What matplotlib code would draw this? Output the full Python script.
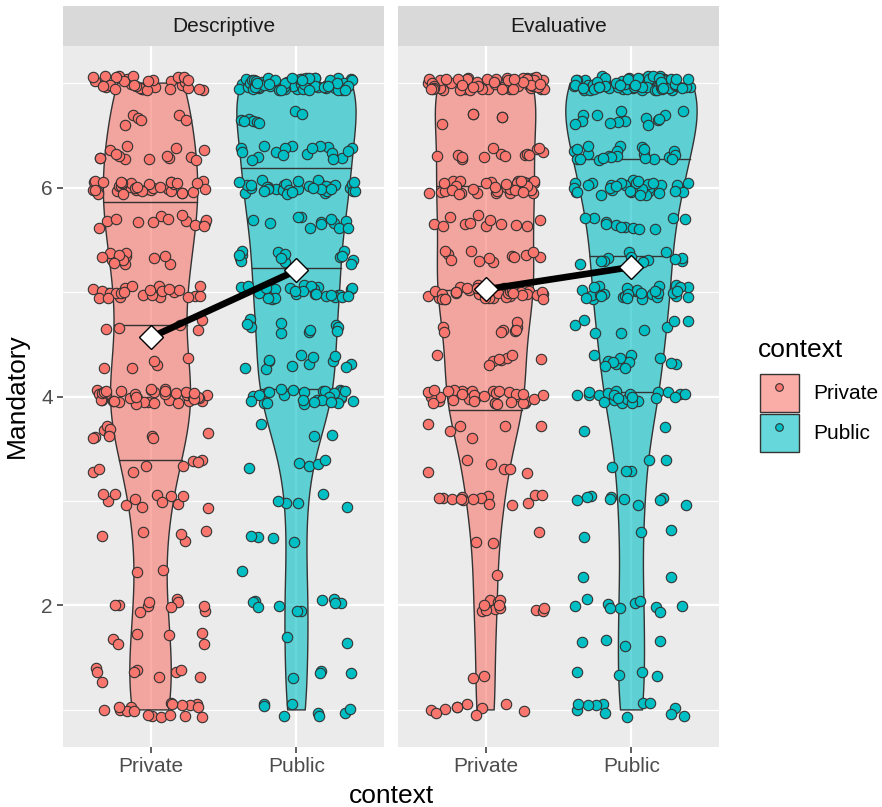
import numpy as np
import matplotlib
matplotlib.use("Agg")
import matplotlib.pyplot as plt
from matplotlib.colors import to_rgba
from matplotlib.patches import Patch
from matplotlib.lines import Line2D
from matplotlib.legend_handler import HandlerTuple

plt.rcParams["font.family"] = ["Liberation Sans", "DejaVu Sans"]

# response levels (scale means) and how many answers sit at each
levels = [1.0, 1.33, 1.67, 2.0, 2.33, 2.67, 3.0, 3.33, 3.67, 4.0,
          4.33, 4.67, 5.0, 5.33, 5.67, 6.0, 6.33, 6.67, 7.0]
desc_private = [18, 9, 6, 10, 2, 5, 12, 8, 10, 40, 5, 5, 25, 12, 13, 36, 14, 6, 36]
desc_public = [8, 4, 2, 10, 1, 4, 5, 5, 3, 30, 12, 10, 28, 14, 12, 36, 18, 8, 65]
eval_private = [10, 2, 0, 12, 1, 3, 14, 6, 6, 35, 8, 8, 40, 12, 12, 36, 14, 5, 57]
eval_public = [12, 4, 4, 10, 2, 3, 10, 5, 2, 22, 12, 8, 30, 12, 12, 34, 22, 14, 77]

facets = ["Descriptive", "Evaluative"]
contexts = ["Private", "Public"]
counts = {
    ("Descriptive", "Private"): desc_private,
    ("Descriptive", "Public"): desc_public,
    ("Evaluative", "Private"): eval_private,
    ("Evaluative", "Public"): eval_public,
}
colors = {"Private": "#F8766D", "Public": "#00BFC4"}
EDGE = "#333333"


def ydensity(vals):
    # same recipe as ggplot stat_ydensity: nrd0 bandwidth, trimmed to data range
    n = vals.size
    q75, q25 = np.percentile(vals, [75, 25])
    bw = 0.9 * min(vals.std(ddof=1), (q75 - q25) / 1.34) * n ** -0.2
    grid = np.linspace(vals.min(), vals.max(), 512)
    z = (grid[:, None] - vals[None, :]) / bw
    dens = np.exp(-0.5 * z ** 2).sum(axis=1) / (n * bw * np.sqrt(2 * np.pi))
    return grid, dens


def jitter(n, start):
    # deterministic scatter offsets (quadratic Weyl sequence), width 0.4, height 0.07
    k = np.arange(n, dtype=float) + start
    ux = (k * 0.7548776662466927 + k * k * 0.1234567891) % 1
    uy = (k * 0.5698402909980532 + k * k * 0.3819660113) % 1
    return (ux - 0.5) * 0.8, (uy - 0.5) * 0.14


data = {}
for key, c in counts.items():
    vals = np.repeat(np.array(levels), c)
    grid, dens = ydensity(vals)
    data[key] = (vals, grid, dens)
dmax = max(d[2].max() for d in data.values())

W, H = 882, 807
fig = plt.figure(figsize=(W / 100, H / 100), dpi=100)


def frac(x0, y0, x1, y1):
    return [x0 / W, 1 - y1 / H, (x1 - x0) / W, (y1 - y0) / H]


panels = [(63, 384), (398, 719)]
for fi, facet in enumerate(facets):
    x0, x1 = panels[fi]
    ax = fig.add_axes(frac(x0, 46, x1, 747))
    ax.set_facecolor("#EBEBEB")
    for s in ax.spines.values():
        s.set_visible(False)
    ax.set_xlim(0.4, 2.6)
    ax.set_ylim(0.645, 7.355)
    ax.set_yticks([2, 4, 6])
    ax.set_yticks([1, 3, 5, 7], minor=True)
    ax.set_xticks([1, 2])
    ax.set_xticklabels(contexts)
    ax.grid(which="major", color="white", lw=1.6)
    ax.grid(which="minor", axis="y", color="white", lw=0.8)
    ax.set_axisbelow(True)
    ax.tick_params(which="major", length=4.3, width=1.1, color=EDGE,
                   labelsize=15, labelcolor="#4D4D4D", pad=3)
    ax.tick_params(which="minor", length=0)
    if fi == 1:
        ax.tick_params(axis="y", which="major", length=0, labelleft=False)

    means = []
    for ci, ctx in enumerate(contexts):
        pos = ci + 1
        vals, grid, dens = data[(facet, ctx)]
        hw = dens / dmax * 0.45
        col = colors[ctx]
        ax.fill(np.concatenate([pos - hw, (pos + hw)[::-1]]),
                np.concatenate([grid, grid[::-1]]),
                facecolor=to_rgba(col, 0.6), edgecolor=EDGE, lw=1.0, zorder=2)
        cdf = np.cumsum(dens) / dens.sum()
        for q in (0.25, 0.5, 0.75):
            yq = np.interp(q, cdf, grid)
            wq = np.interp(yq, grid, hw)
            ax.plot([pos - wq, pos + wq], [yq, yq], color=EDGE, lw=1.0, zorder=2.5)
        jx, jy = jitter(vals.size, 7 + ci * 1000 + fi * 2000)
        ax.scatter(pos + jx, vals + jy, s=56, c=col, edgecolors=EDGE,
                   linewidths=0.8, zorder=3)
        means.append(vals.mean())

    ax.plot([1, 2], means, color="black", lw=4.8, zorder=4, solid_capstyle="butt")
    ax.plot([1, 2], means, ls="none", marker="D", ms=12, mfc="white",
            mec="black", mew=1.0, zorder=5)

    sax = fig.add_axes(frac(x0, 6, x1, 46))
    sax.set_facecolor("#D9D9D9")
    sax.set_xticks([])
    sax.set_yticks([])
    for s in sax.spines.values():
        s.set_visible(False)
    sax.text(0.5, 0.5, facet, ha="center", va="center", fontsize=15,
             color="#1A1A1A", transform=sax.transAxes)

fig.text(391 / W, 1 - 796 / H, "context", ha="center", va="center", fontsize=19)
fig.text(17 / W, 1 - 396 / H, "Mandatory", ha="center", va="center",
         fontsize=19, rotation=90)

# legend: title set apart so the gap to the keys matches ggplot
fig.text(758 / W, 1 - 350 / H, "context", ha="left", va="center", fontsize=19)
handles = []
for ctx in contexts:
    box = Patch(facecolor=to_rgba(colors[ctx], 0.6), edgecolor=EDGE, lw=1.0)
    dot = Line2D([], [], ls="none", marker="o", ms=5.5, mfc=colors[ctx],
                 mec=EDGE, mew=0.8)
    handles.append((box, dot))
fig.legend(handles, contexts,
           handler_map={tuple: HandlerTuple(ndivide=1, pad=0)},
           fontsize=15, frameon=False,
           handlelength=1.87, handleheight=2.43, labelspacing=0.1,
           handletextpad=0.7, loc="upper left",
           bbox_to_anchor=(760 / W, 1 - 374 / H), borderaxespad=0, borderpad=0)

fig.savefig("out.png", dpi=100)
